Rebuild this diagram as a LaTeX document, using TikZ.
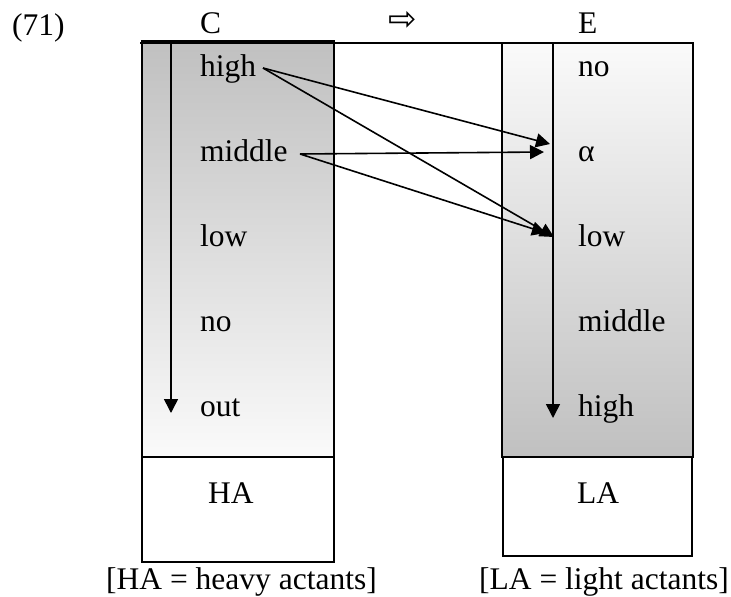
\documentclass[tikz,border=0pt]{standalone}
\usepackage{fontspec}
\setmainfont{Liberation Serif}
\newfontfamily\symfont{DejaVu Sans}
\usetikzlibrary{arrows.meta}
\definecolor{boxgray}{RGB}{192,192,192}
\tikzset{
  lbl/.style={anchor=base west, inner sep=0pt, font=\fontsize{31.5}{37}\selectfont},
  frame/.style={line width=1.8pt, draw=black},
  conn/.style={line width=1.6pt, -{Triangle[length=14pt,width=14pt]}},
}
\begin{document}
\begin{tikzpicture}[x=1pt,y=-1pt]
\useasboundingbox (0,0) rectangle (731,597);
% shaded upper boxes
\shade[top color=boxgray, bottom color=white!98!black] (142,41) rectangle (334,457);
\shade[top color=white!98!black, bottom color=boxgray] (502,43) rectangle (693,457);
% frames
\draw[frame] (142,41) rectangle (334,562);
\draw[frame] (142,457) -- (334,457);
\draw[frame] (502,43) rectangle (693,457);
\draw[frame] (503,457) rectangle (692,556);
\draw[frame] (140,43) -- (693,43);
% headings
\node[lbl] (num) at (12,35) {(71)};
\node[lbl] (hc) at (200,33) {C};
\node[anchor=center, inner sep=0pt, font=\symfont\fontsize{34}{40}\selectfont] (imp) at (403,21) {⇨};
\node[lbl] (he) at (578,33) {E};
% left column
\node[lbl] (lhigh) at (200,76) {high};
\node[lbl] (lmid) at (200,161) {middle};
\node[lbl] (llow) at (200,246) {low};
\node[lbl] (lno) at (200,331) {no};
\node[lbl] (lout) at (200,416) {out};
% right column
\node[lbl] (rno) at (578,76) {no};
\node[lbl] (ralpha) at (578,161) {α};
\node[lbl] (rlow) at (578,246) {low};
\node[lbl] (rmid) at (578,331) {middle};
\node[lbl] (rhigh) at (578,416) {high};
% lower boxes
\node[lbl] (ha) at (208,503) {HA};
\node[lbl] (la) at (577,503) {LA};
% captions
\node[lbl] (capha) at (106,589) {[HA = heavy actants]};
\node[lbl] (capla) at (479,589) {[LA = light actants]};
% vertical scale arrows
\coordinate (ltop) at (171,43);
\coordinate (lbot) at (171,413);
\coordinate (rtop) at (553,43);
\coordinate (rbot) at (553,418);
\draw[conn] (ltop) -- (lbot);
\draw[conn] (rtop) -- (rbot);
% mapping arrows
\coordinate (hs) at (263,68);
\coordinate (ms) at (300,154);
\coordinate (ta1) at (550,144);
\coordinate (ta2) at (544,152);
\coordinate (tl1) at (554,237);
\coordinate (tl2) at (546,233);
\draw[conn] (hs) -- (ta1);
\draw[conn] (hs) -- (tl1);
\draw[conn] (ms) -- (ta2);
\draw[conn] (ms) -- (tl2);
\end{tikzpicture}
\end{document}
